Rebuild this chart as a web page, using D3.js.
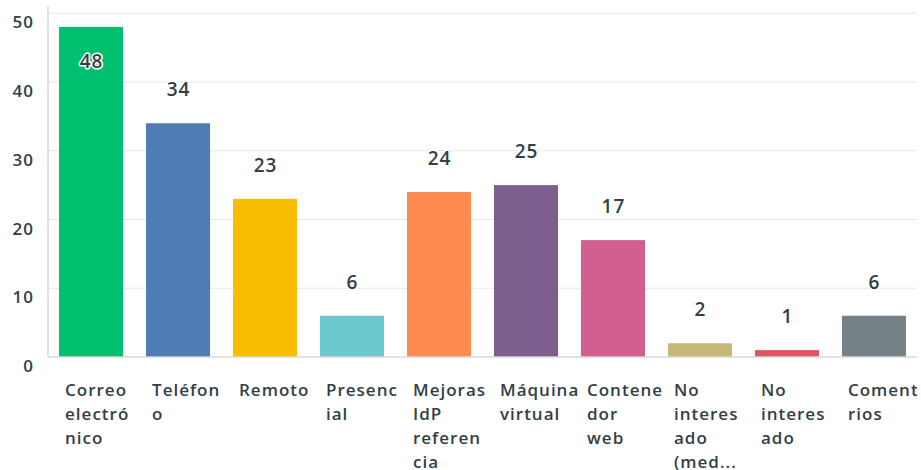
<!DOCTYPE html>
<html>
<head>
<meta charset="utf-8">
<style>
    body { margin: 0; background: #fff; }
    svg { display: block; font-family: 'Open Sans', Roboto, sans-serif; }
    .tick-label, .cat-label, .val-label { fill: #333e48; font-weight: 600; letter-spacing: 1px; }
</style>
</head>
<body>
<svg width="921" height="470"></svg>
<script src="https://d3js.org/d3.v7.min.js"></script>
<script>
    // data
    let categories = ["Correo electrónico", "Teléfono", "Remoto", "Presencial", "Mejoras IdP referencia",
        "Máquina virtual", "Contenedor web", "No interesado (med...", "No interesado", "Comentarios"];
    let values = [48, 34, 23, 6, 24, 25, 17, 2, 1, 6];
    // axis labels are wrapped the same way as the original
    let labelLines = [
        ["Correo", "electró", "nico"],
        ["Teléfon", "o"],
        ["Remoto"],
        ["Presenc", "ial"],
        ["Mejoras", "IdP", "referen", "cia"],
        ["Máquina", "virtual"],
        ["Contene", "dor", "web"],
        ["No", "interes", "ado", "(med..."],
        ["No", "interes", "ado"],
        ["Comenta", "rios"]
    ];
    let yTicks = [0, 10, 20, 30, 40, 50];
    let colors = ["#00bf6f", "#507cb6", "#f9be00", "#6bc8cd", "#ff8b4f",
        "#7d5e8f", "#d25f90", "#c8b878", "#e05463", "#768087"];

    let svg = d3.select("svg");
    let plotLeft = 48, plotRight = 917, plotTop = 13.25, plotBottom = 357;

    let x = d3.scaleBand()
        .domain(categories)
        .range([plotLeft, plotRight])
        .paddingInner(0.264)
        .paddingOuter(0.127);

    let y = d3.scaleLinear()
        .domain([0, 50])
        .range([plotBottom, plotTop]);

    // gridlines
    svg.append("g")
        .selectAll("line")
        .data(yTicks.filter(d => d > 0))
        .join("line")
        .attr("x1", plotLeft)
        .attr("x2", plotRight)
        .attr("y1", d => y(d))
        .attr("y2", d => y(d))
        .style("stroke", "#e6e6e6")
        .style("stroke-width", 1);

    // y tick labels
    svg.append("g")
        .selectAll("text")
        .data(yTicks)
        .join("text")
        .attr("class", "tick-label")
        .attr("x", 34)
        .attr("y", d => y(d) + 15)
        .attr("text-anchor", "end")
        .style("font-size", "17px")
        .text(d => d);

    // bars
    svg.append("g")
        .selectAll("rect")
        .data(values)
        .join("rect")
        .attr("x", (d, i) => x(categories[i]))
        .attr("y", d => y(d))
        .attr("width", x.bandwidth())
        .attr("height", d => plotBottom - y(d))
        .style("fill", (d, i) => colors[i]);

    // axes lines
    svg.append("line")
        .attr("x1", plotLeft).attr("x2", plotLeft)
        .attr("y1", 6).attr("y2", plotBottom)
        .style("stroke", "#d9d9d9").style("stroke-width", 1.5);
    svg.append("line")
        .attr("x1", plotLeft).attr("x2", plotRight)
        .attr("y1", plotBottom).attr("y2", plotBottom)
        .style("stroke", "#d9d9d9").style("stroke-width", 1.5);

    // value labels, pushed inside the bar when there's no room above
    svg.append("g")
        .selectAll("text")
        .data(values)
        .join("text")
        .attr("class", "val-label")
        .attr("x", (d, i) => x(categories[i]) + x.bandwidth() / 2 + 0.5)
        .attr("y", d => y(d) - 27 < 12 ? y(d) + 41 : y(d) - 27)
        .attr("text-anchor", "middle")
        .style("font-size", "19px")
        .style("stroke", "#fff")
        .style("stroke-width", 3)
        .style("stroke-linejoin", "round")
        .style("paint-order", "stroke")
        .text(d => d);

    // category labels (clipped at the plot's right edge like the original)
    svg.append("clipPath").attr("id", "clip")
        .append("rect").attr("x", 0).attr("y", 0).attr("width", plotRight).attr("height", 470);

    svg.append("g")
        .attr("clip-path", "url(#clip)")
        .selectAll("text")
        .data(categories)
        .join("text")
        .attr("class", "cat-label")
        .attr("x", d => x(d) + 6)
        .attr("y", 396)
        .style("font-size", "17px")
        .each(function (d, i) {
            d3.select(this).selectAll("tspan")
                .data(labelLines[i])
                .join("tspan")
                .attr("x", x(d) + 6)
                .attr("dy", (t, j) => j === 0 ? 0 : 24)
                .text(t => t);
        });
</script>
</body>
</html>
